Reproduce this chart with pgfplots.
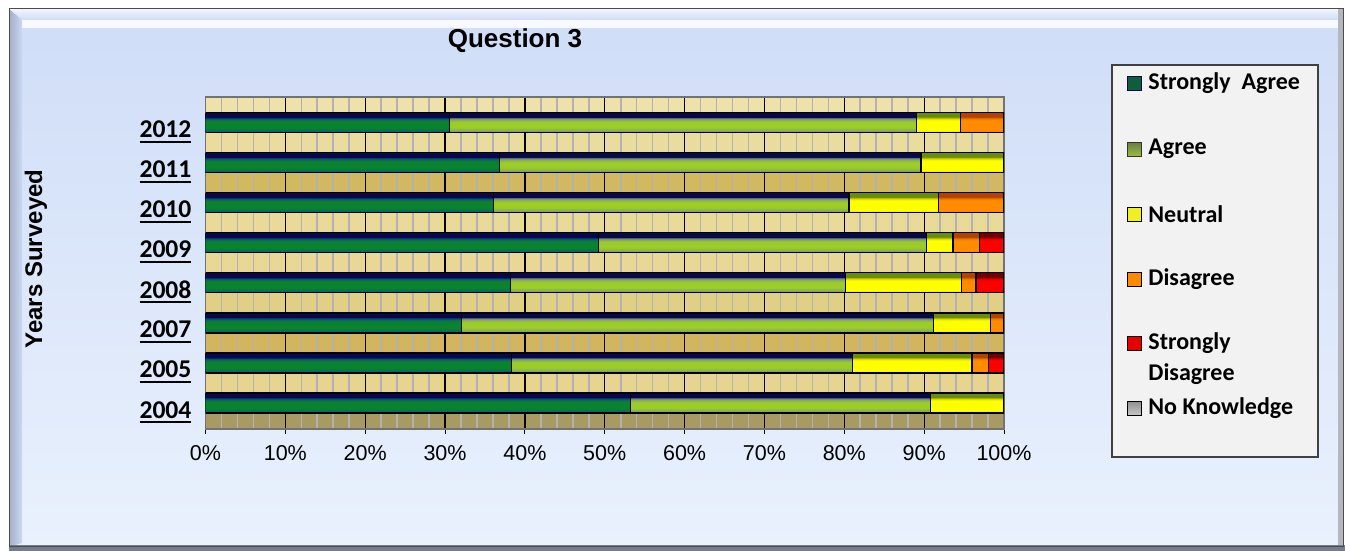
\documentclass[border=0pt]{standalone}
\usepackage{fontspec}
\setmainfont{Liberation Sans}
\newfontfamily\calibri{Carlito}
\usepackage{pgfplots}
\pgfplotsset{compat=1.18}
\usepackage{pgfplotstable}

\definecolor{bgTop}{HTML}{CFDDF7}
\definecolor{bgBot}{HTML}{E9F1FD}
\definecolor{bevL}{HTML}{A3AEC6}
\definecolor{botStrip}{HTML}{767D88}
\definecolor{navyT}{HTML}{08084A}
\definecolor{bandBase}{HTML}{EADB9E}
\definecolor{bA}{HTML}{EEE2AA}
\definecolor{bB}{HTML}{EADC9E}
\definecolor{bC}{HTML}{D3B862}
\definecolor{bD}{HTML}{E9DA9A}
\definecolor{bE}{HTML}{E8D796}
\definecolor{bF}{HTML}{E2CF86}
\definecolor{bG}{HTML}{D2B55E}
\definecolor{bH}{HTML}{E6D490}
\definecolor{bI}{HTML}{A99A64}
\definecolor{legBg}{HTML}{F2F2F2}
\definecolor{lSA}{HTML}{0E5E3C}
\definecolor{lAt}{HTML}{6A8040}
\definecolor{lAb}{HTML}{98C040}
\definecolor{lN}{HTML}{F0F020}
\definecolor{lD}{HTML}{FF8A00}
\definecolor{lSD}{HTML}{E80000}
\definecolor{lNKt}{HTML}{909090}
\definecolor{lNKb}{HTML}{C8C8C8}
% SA
\definecolor{saB}{HTML}{0C3A78}
\definecolor{saM}{HTML}{0A6A5A}
\definecolor{saG}{HTML}{0A842C}
% Agree
\definecolor{agB}{HTML}{66788E}
\definecolor{agM}{HTML}{86A85A}
\definecolor{agG}{HTML}{9CCC28}
% Neutral
\definecolor{nuB}{HTML}{C8C800}
\definecolor{nuG}{HTML}{FFFF00}
\definecolor{nuT}{HTML}{6A8A10}
% Disagree
\definecolor{diB}{HTML}{E07000}
\definecolor{diG}{HTML}{FF8C00}
\definecolor{diT}{HTML}{B04400}
% Strongly disagree
\definecolor{sdB}{HTML}{D00000}
\definecolor{sdG}{HTML}{FF0000}
\definecolor{sdT}{HTML}{700000}

% one vertical shading that repeats once per bar (bars at y = k +- 0.25, k = kmin..kmax)
\makeatletter
\newcommand\mkshade[4]{% name, kmin, kmax, stops
  \gdef\sh@spec{}%
  \pgfmathsetmacro\sh@u{50/(#3-#2+0.5)}%
  \foreach \k in {#2,...,#3}{%
    \foreach \f/\cc in {#4}{%
      \pgfmathsetmacro\pos{25+\sh@u*(\k-#2)+0.5*\sh@u*\f}%
      \xdef\sh@spec{\sh@spec color(\pos bp)=(\cc);}%
    }%
  }%
  \edef\sh@tmp{\noexpand\pgfdeclareverticalshading{#1}{100bp}{color(0bp)=(navyT);\sh@spec color(100bp)=(navyT)}}%
  \sh@tmp
}
\makeatother
\mkshade{saS}{0}{7}{0/saB,0.1/saM,0.26/saG,0.54/saG,0.66/saM,0.74/saB,0.77/navyT,1/navyT}
\mkshade{agS}{0}{7}{0/agB,0.1/agM,0.26/agG,0.54/agG,0.66/agM,0.74/agB,0.77/navyT,1/navyT}
\mkshade{nuS}{0}{7}{0/nuB,0.12/nuG,0.62/nuG,0.74/nuB,0.77/nuT,1/nuT}
\mkshade{diS}{1}{7}{0/diB,0.12/diG,0.62/diG,0.74/diB,0.77/diT,1/diT}
\mkshade{sdS}{1}{4}{0/sdB,0.12/sdG,0.62/sdG,0.74/sdB,0.77/sdT,1/sdT}

\pgfplotstableread{
k  SA   A    N    D    SD
0  53.2 37.6 9.2  0    0
1  38.3 42.7 15.0 2.1  1.9
2  32.1 59.1 7.1  1.7  0
3  38.2 41.9 14.6 1.8  3.5
4  49.2 41.1 3.3  3.3  3.1
5  36.1 44.5 11.2 8.2  0
6  36.8 52.8 10.4 0    0
7  30.6 58.4 5.6  5.4  0
}\data

\newcommand\ul[1]{\setbox0\hbox{#1}\rlap{\rule[-2.4pt]{\wd0}{0.85pt}}\box0}
\newcommand\band[3]{\fill[#3] (205.5,551-#2) rectangle (1004,551-#1);
  \draw[black,line width=0.6pt] (205.5,551-#1) -- (1004,551-#1) (205.5,551-#2) -- (1004,551-#2);}

\begin{document}
\begin{tikzpicture}[x=0.5pt,y=0.5pt]
% canvas
\fill[white] (0,0) rectangle (1345,551);
\shade[top color=bgTop, bottom color=bgBot] (9,4) rectangle (1343,542);
\shade[top color=white!70!bgTop, bottom color=bgTop] (9,531) rectangle (1343,542);
\fill[white!85!bgTop] (22,523) rectangle (1343,531);
\shade[left color=bevL, right color=bgTop!90!bevL] (9,4) -- (9,542) -- (22,531) -- (22,8) -- cycle;
\fill[gray!50!bgBot] (1338,4) rectangle (1343,542);
\fill[botStrip] (9,0) rectangle (1345,6);
\draw[black!70, line width=0.5pt] (9,4) rectangle (1343,542);

% plot-area floor bands
\fill[bandBase] (205.5,551-429) rectangle (1004,551-97);
\band{97}{112.7}{bA}
\band{132.7}{152.7}{bB}
\band{172.7}{192.8}{bC}
\band{212.8}{232.8}{bD}
\band{252.8}{272.9}{bE}
\band{292.9}{312.9}{bF}
\band{332.9}{352.9}{bG}
\band{372.9}{393}{bH}
\band{413}{429}{bI}

\begin{axis}[
  at={(102.75pt,61pt)}, anchor=south west,
  scale only axis, width=399.25pt, height=166pt,
  xmin=0, xmax=100, ymin=-0.649, ymax=7.642,
  xbar stacked, bar width=0.5,
  xtick={0,10,...,100},
  xticklabels={0\%,10\%,20\%,30\%,40\%,50\%,60\%,70\%,80\%,90\%,100\%},
  minor x tick num=4,
  xmajorgrids, xminorgrids,
  major grid style={black, line width=0.6pt},
  minor grid style={color=black!30, line width=0.8pt},
  ytick={0,...,7},
  yticklabels={\ul{2004},\ul{2005},\ul{2007},\ul{2008},\ul{2009},\ul{2010},\ul{2011},\ul{2012}},
  tick align=outside, xtick pos=bottom, ytick pos=left,
  major tick length=2.5pt, minor tick length=0pt,
  ytick style={draw=none},
  xtick style={black, line width=0.5pt},
  axis line style={draw=black!55, line width=0.6pt},
  xticklabel style={font=\fontsize{10.75}{12}\selectfont, yshift=-2pt},
  yticklabel style={font=\calibri\bfseries\fontsize{12.8}{14}\selectfont, yshift=-4.5pt, xshift=-1pt},
]
\addplot[draw=black, line width=0.6pt, shading=saS] table[x=SA, y=k]{\data};
\addplot[draw=black, line width=0.6pt, shading=agS] table[x=A, y=k]{\data};
\addplot[draw=black, line width=0.6pt, shading=nuS] table[x=N, y=k]{\data};
\addplot[draw=black, line width=0.6pt, shading=diS] table[x=D, y=k]{\data};
\addplot[draw=black, line width=0.6pt, shading=sdS] table[x=SD, y=k]{\data};
\end{axis}

% titles
\node[font=\bfseries\fontsize{13}{15}\selectfont] at (515,551-41) {Question 3};
\node[font=\bfseries\fontsize{12}{14}\selectfont, rotate=90] at (36,551-259) {Years Surveyed};

% legend
\draw[fill=legBg, draw=black!75, line width=0.6pt] (1112,551-457) rectangle (1318,551-65);
\begin{scope}[every node/.style={font=\calibri\bfseries\fontsize{12}{14}\selectfont, anchor=west, inner sep=0pt}]
\draw[fill=lSA, draw=navyT, line width=0.8pt] (1127.5,551-90.5) rectangle (1141.5,551-76.5);
\node at (1148,551-83) {Strongly\ \ Agree};
\shade[top color=lAt, bottom color=lAb, draw=black!80, line width=0.8pt] (1127.5,551-156.5) rectangle (1141.5,551-142.5);
\node at (1148,551-149) {Agree};
\draw[fill=lN, draw=black, line width=0.8pt] (1127.5,551-221.5) rectangle (1141.5,551-207.5);
\node at (1148,551-214) {Neutral};
\draw[fill=lD, draw=black, line width=0.8pt] (1127.5,551-286.5) rectangle (1141.5,551-272.5);
\node at (1148,551-279) {Disagree};
\draw[fill=lSD, draw=black, line width=0.8pt] (1127.5,551-350.5) rectangle (1141.5,551-336.5);
\node at (1148,551-343) {Strongly};
\node at (1148,551-374) {Disagree};
\shade[top color=lNKt, bottom color=lNKb, draw=black, line width=0.8pt] (1127.5,551-415.5) rectangle (1141.5,551-401.5);
\node at (1148,551-408) {No Knowledge};
\end{scope}
\end{tikzpicture}
\end{document}
